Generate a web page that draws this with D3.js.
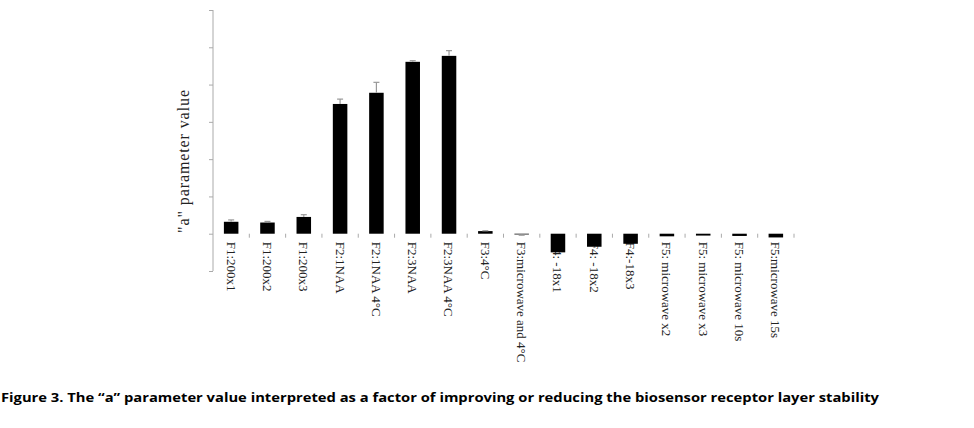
<!DOCTYPE html>
<html><head><meta charset="utf-8">
<script src="https://cdn.jsdelivr.net/npm/d3@7"></script>
<style>body{margin:0;background:#fff}</style>
</head><body>
<svg id="c" width="974" height="428"></svg>
<script>
const categories = ["F1:200x1","F1:200x2","F1:200x3","F2:1NAA","F2:1NAA 4°C","F2:3NAA","F2:3NAA 4°C","F3:4°C","F3:microwave and 4°C","F4: -18x1","F4: -18x2","F4:-18x3","F5: microwave x2","F5: microwave x3","F5: microwave 10s","F5:microwave 15s"];
const values = [0.32,0.30,0.45,3.48,3.78,4.61,4.77,0.07,-0.02,-0.50,-0.35,-0.27,-0.07,-0.05,-0.06,-0.10];
const errors = [0.05,0.03,0.06,0.13,0.28,0.03,0.14,0.01,0.02,0,0,0,0,0,0,0];
const yTicks = [-1,0,1,2,3,4,5,6];
const yLabel = '"a" parameter value';
const caption = 'Figure 3. The \u201ca\u201d parameter value interpreted as a factor of improving or reducing the biosensor receptor layer stability';

const svg = d3.select("#c");
const x = d3.scaleBand().domain(categories).range([213, 794]).paddingInner(0.6).paddingOuter(0.3);
const y = d3.scaleLinear().domain([-1, 6]).range([271, 10]);
const step = (794 - 213) / categories.length;

// y axis
const yAxis = d3.axisLeft(y).tickValues(yTicks).tickSize(4).tickFormat("");
const ga = svg.append("g").attr("transform", "translate(213,0)").call(yAxis);
ga.select(".domain").attr("stroke", "#aaa").attr("d", `M0,${y(6)}V${y(-1)}`);
ga.selectAll(".tick line").attr("stroke", "#aaa");

// x ticks (band boundaries)
const bounds = d3.range(1, categories.length + 1).map(i => 213 + i * step);
svg.append("g").selectAll("line").data(bounds).join("line")
  .attr("x1", d => d).attr("x2", d => d)
  .attr("y1", y(0)).attr("y2", y(0) + 4)
  .attr("stroke", "#aaa").attr("stroke-width", 1);

// category labels
svg.append("g").selectAll("text").data(categories).join("text")
  .attr("transform", d => `translate(${x(d) + x.bandwidth() / 2},${y(0) + 8}) rotate(90)`)
  .attr("dy", "0.35em")
  .attr("font-family", "Liberation Serif, Times New Roman, serif")
  .attr("font-size", "13px")
  .attr("fill", "#222")
  .text(d => d);

// bars
svg.append("g").selectAll("rect").data(categories).join("rect")
  .attr("x", d => x(d)).attr("width", x.bandwidth())
  .attr("y", (d, i) => y(Math.max(0, values[i])))
  .attr("height", (d, i) => Math.abs(y(values[i]) - y(0)))
  .attr("fill", "#000");

// error bars
const eg = svg.append("g").attr("stroke", "#999").attr("stroke-width", 1.2);
categories.forEach((c, i) => {
  if (!errors[i]) return;
  const cx = x(c) + x.bandwidth() / 2;
  const v = values[i];
  const e = v >= 0 ? v + errors[i] : v - errors[i];
  eg.append("line").attr("x1", cx).attr("x2", cx).attr("y1", y(v)).attr("y2", y(e));
  eg.append("line").attr("x1", cx - 3).attr("x2", cx + 3).attr("y1", y(e)).attr("y2", y(e));
});

// y label
svg.append("text")
  .attr("transform", "translate(189,161.5) rotate(-90)")
  .attr("text-anchor", "middle")
  .attr("font-family", "Liberation Serif, Times New Roman, serif")
  .attr("font-size", "16px")
  .attr("textLength", 143)
  .attr("lengthAdjust", "spacing")
  .attr("fill", "#222")
  .text(yLabel);

// caption
svg.append("text")
  .attr("x", 1).attr("y", 402)
  .attr("font-family", "Open Sans, sans-serif")
  .attr("font-weight", "bold")
  .attr("font-size", "13px")
  .attr("textLength", 878)
  .attr("lengthAdjust", "spacingAndGlyphs")
  .attr("fill", "#000")
  .text(caption);
</script>
</body></html>
